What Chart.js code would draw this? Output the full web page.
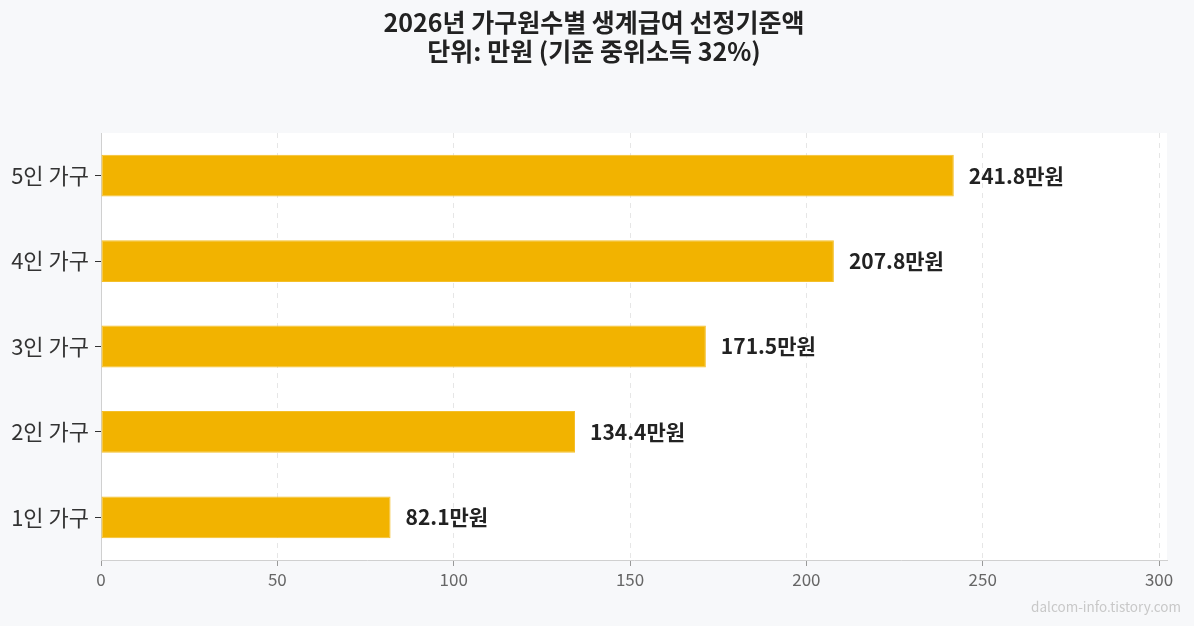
<!DOCTYPE html>
<html>
<head>
<meta charset="utf-8">
<script src="https://cdn.jsdelivr.net/npm/chart.js@4/dist/chart.umd.min.js"></script>
<style>
    html, body { margin: 0; padding: 0; background: #f7f8fa; }
    #wrap { width: 1194px; height: 626px; position: relative; }
</style>
</head>
<body>
<div id="wrap"><canvas id="benefitChart" width="1194" height="626"></canvas></div>
<script>
var householdLabels = ['1인 가구', '2인 가구', '3인 가구', '4인 가구', '5인 가구'];
var benefitValues = [82.1, 134.4, 171.5, 207.8, 241.8];
var xTicks = [0, 50, 100, 150, 200, 250, 300];
var titleLines = ['2026년 가구원수별 생계급여 선정기준액', '단위: 만원 (기준 중위소득 32%)'];
var watermark = 'dalcom-info.tistory.com';

var FONT = "'Noto Sans CJK KR', 'Noto Sans', sans-serif";

(function () {
    var canvas = document.getElementById('benefitChart');

    var decor = {
        id: 'decor',
        beforeDraw: function (chart) {
            var ctx = chart.ctx;
            var a = chart.chartArea;
            ctx.save();
            ctx.fillStyle = '#f7f8fa';
            ctx.fillRect(0, 0, chart.width, chart.height);
            ctx.fillStyle = '#ffffff';
            ctx.fillRect(a.left, a.top, a.right - a.left, a.bottom - a.top);
            ctx.restore();
        },
        afterDraw: function (chart) {
            var ctx = chart.ctx;
            ctx.save();
            ctx.fillStyle = '#222222';
            ctx.textAlign = 'center';
            ctx.textBaseline = 'middle';
            ctx.font = 'bold 25px ' + FONT;
            ctx.fillText(titleLines[0], 594, 22);
            ctx.fillText(titleLines[1], 594, 51);

            // value labels just past the bar end
            var meta = chart.getDatasetMeta(0);
            ctx.font = 'bold 21px ' + FONT;
            ctx.textAlign = 'left';
            ctx.fillStyle = '#222222';
            meta.data.forEach(function (bar, i) {
                ctx.fillText(benefitValues[i] + '만원', bar.x + 15, bar.y);
            });

            ctx.font = '13.5px ' + FONT;
            ctx.fillStyle = '#c8c8c8';
            ctx.textAlign = 'right';
            ctx.fillText(watermark, 1181, 607);
            ctx.restore();
        }
    };

    new Chart(canvas.getContext('2d'), {
        type: 'bar',
        data: {
            labels: householdLabels,
            datasets: [{
                data: benefitValues,
                backgroundColor: '#F2B300',
                borderColor: '#F4BF2A',
                borderWidth: 1,
                borderSkipped: false,
                categoryPercentage: 1,
                barPercentage: 0.49
            }]
        },
        options: {
            indexAxis: 'y',
            responsive: false,
            animation: false,
            layout: { padding: { left: 0, right: 27, top: 133, bottom: 0 } },
            plugins: {
                legend: { display: false },
                tooltip: { enabled: false }
            },
            scales: {
                x: {
                    min: 0,
                    max: 302.25,
                    afterBuildTicks: function (scale) {
                        scale.ticks = xTicks.map(function (v) { return { value: v }; });
                    },
                    afterFit: function (scale) { scale.height = 66; },
                    grid: {
                        color: '#e6e6e6',
                        tickColor: '#999999',
                        tickLength: 6,
                        lineWidth: 1
                    },
                    border: { color: '#d0d0d0', dash: [5, 5], display: true },
                    ticks: {
                        font: { size: 17, family: FONT },
                        color: '#666666',
                        padding: 3,
                        maxRotation: 0
                    }
                },
                y: {
                    reverse: true,
                    afterFit: function (scale) { scale.width = 101; },
                    grid: {
                        offset: false,
                        drawOnChartArea: false,
                        tickColor: '#333333',
                        tickLength: 6
                    },
                    border: { color: '#d0d0d0' },
                    ticks: {
                        font: { size: 22, family: FONT },
                        color: '#333333',
                        padding: 6
                    }
                }
            }
        },
        plugins: [decor]
    });
})();
</script>
</body>
</html>
